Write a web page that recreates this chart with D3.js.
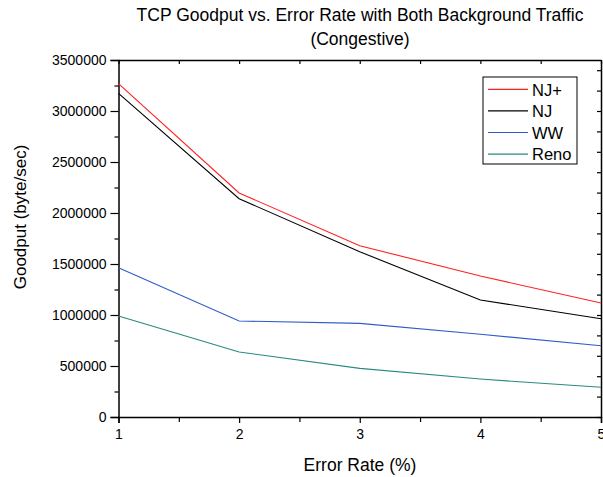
<!DOCTYPE html>
<html>
<head>
<meta charset="utf-8">
<script src="https://cdn.jsdelivr.net/npm/d3@7"></script>
<style>
  body { margin: 0; background: #fff; }
  svg text { font-family: "Liberation Sans", Arial, sans-serif; fill: #000; }
</style>
</head>
<body>
<svg id="chart" width="603" height="477"></svg>
<script>
const errorRates = [1, 2, 3, 4, 5];
const njPlus = [3268000, 2196000, 1679000, 1382000, 1118000];
const nj     = [3173000, 2140000, 1620000, 1147000, 964000];
const ww     = [1464000, 941000, 918000, 811000, 699000];
const reno   = [990000, 637000, 477000, 372000, 291000];
const seriesNames = ["NJ+", "NJ", "WW", "Reno"];
const yTicks = [0, 500000, 1000000, 1500000, 2000000, 2500000, 3000000, 3500000];

const colors = ["#ff2020", "#000000", "#2f5cc8", "#2a8a80"];
const allSeries = [njPlus, nj, ww, reno];

const svg = d3.select('#chart');
const plotLeft = 118.5, plotRight = 601, plotTop = 60, plotBottom = 417;

const x = d3.scaleLinear().domain([1, 5]).range([plotLeft, plotRight]);
const y = d3.scaleLinear().domain([0, 3500000]).range([plotBottom, plotTop]);

// title
svg.append('text')
  .attr('x', 360).attr('y', 21)
  .attr('text-anchor', 'middle')
  .style('font-size', '17.5px')
  .text('TCP Goodput vs. Error Rate with Both Background Traffic');
svg.append('text')
  .attr('x', 360).attr('y', 45)
  .attr('text-anchor', 'middle')
  .style('font-size', '17.5px')
  .text('(Congestive)');

// bottom axis
svg.append('g')
  .attr('transform', `translate(0,${plotBottom})`)
  .call(d3.axisBottom(x).tickValues(errorRates).tickFormat(d3.format('d')).tickSize(6).tickPadding(6));
svg.append('g')
  .attr('transform', `translate(0,${plotBottom})`)
  .call(d3.axisBottom(x).tickValues([1.5, 2.5, 3.5, 4.5]).tickFormat('').tickSize(5))
  .select('.domain').remove();

// left axis
svg.append('g')
  .attr('transform', `translate(${plotLeft},0)`)
  .call(d3.axisLeft(y).tickValues(yTicks).tickFormat(d3.format('d')).tickSize(8).tickPadding(4));
svg.append('g')
  .attr('transform', `translate(${plotLeft},0)`)
  .call(d3.axisLeft(y).tickValues(yTicks.slice(0, -1).map(v => v + 250000)).tickFormat('').tickSize(4))
  .select('.domain').remove();

// top and right frame with inward ticks
svg.append('g')
  .attr('transform', `translate(0,${plotTop})`)
  .call(d3.axisTop(x).ticks(8).tickFormat('').tickSize(-4).tickSizeOuter(0));
svg.append('g')
  .attr('transform', `translate(${plotRight},0)`)
  .call(d3.axisRight(y).ticks(14).tickFormat('').tickSize(-4).tickSizeOuter(0));

svg.selectAll('.domain').attr('stroke', '#000').attr('stroke-width', 1.5);
svg.selectAll('.tick line').attr('stroke', '#000').attr('stroke-width', 1.2);
svg.selectAll('.tick text').style('font-size', '14px').style('font-family', '"Liberation Sans", Arial, sans-serif');

// axis titles
svg.append('text')
  .attr('x', 360).attr('y', 471)
  .attr('text-anchor', 'middle')
  .style('font-size', '17.5px')
  .text('Error Rate (%)');
svg.append('text')
  .attr('transform', 'translate(26,217) rotate(-90)')
  .attr('text-anchor', 'middle')
  .style('font-size', '17px')
  .text('Goodput (byte/sec)');

// lines
const line = d3.line()
  .x((d, i) => x(errorRates[i]))
  .y(d => y(d));

svg.selectAll('path.series')
  .data(allSeries)
  .enter()
  .append('path')
  .classed('series', true)
  .attr('d', line)
  .attr('fill', 'none')
  .attr('stroke', (d, i) => colors[i])
  .attr('stroke-width', 1.1);

// legend
const legend = svg.append('g').attr('transform', 'translate(483,77)');
legend.append('rect')
  .attr('width', 94).attr('height', 87)
  .attr('fill', '#fff').attr('stroke', '#000').attr('stroke-width', 1);
const rows = legend.selectAll('g.row')
  .data(seriesNames)
  .enter()
  .append('g')
  .attr('transform', (d, i) => `translate(0,${12.3 + i * 21.6})`);
rows.append('line')
  .attr('x1', 5).attr('x2', 45)
  .attr('stroke', (d, i) => colors[i])
  .attr('stroke-width', 1.2);
rows.append('text')
  .attr('x', 49).attr('y', 6.2)
  .style('font-size', '16.5px')
  .text(d => d);
</script>
</body>
</html>
